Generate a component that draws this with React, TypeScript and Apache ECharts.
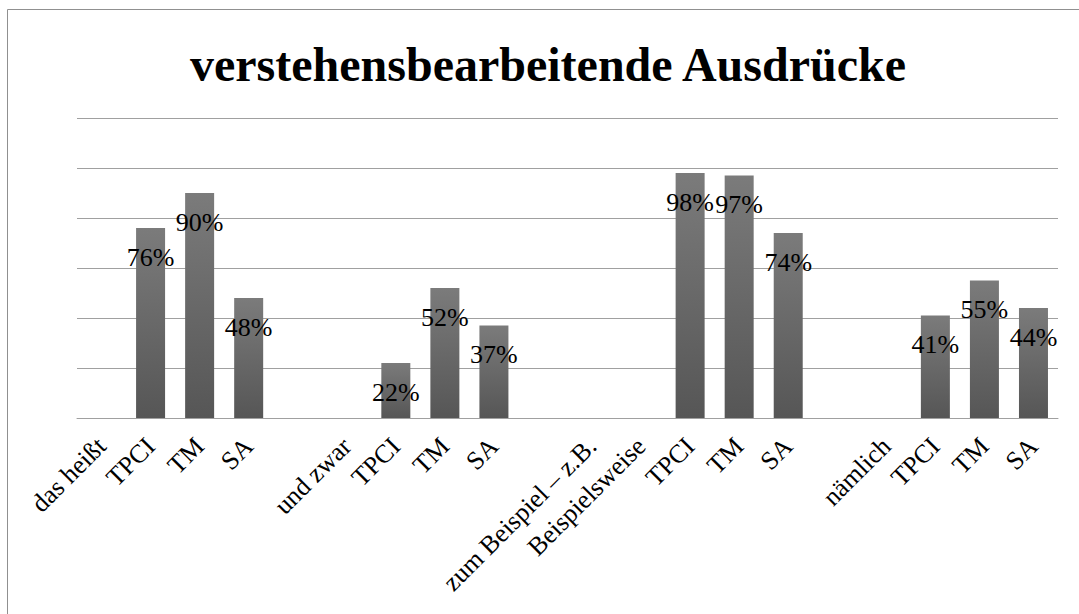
import React, { useEffect, useRef } from "react";
import * as echarts from "echarts";

const titleText = "verstehensbearbeitende Ausdrücke";
const categories = [
  "das heißt", "TPCI", "TM", "SA", "",
  "und zwar", "TPCI", "TM", "SA", "",
  "zum Beispiel – z.B.", "Beispielsweise", "TPCI", "TM", "SA", "",
  "nämlich", "TPCI", "TM", "SA",
];
const values: (number | null)[] = [
  null, 76, 90, 48, null,
  null, 22, 52, 37, null,
  null, null, 98, 97, 74, null,
  null, 41, 55, 44,
];
const yTicks = { min: 0, max: 120, interval: 20 };

const FONT = "'Liberation Serif', 'Times New Roman', serif";

export default function App() {
  const ref = useRef<HTMLDivElement>(null);
  useEffect(() => {
    if (!ref.current) return;
    const chart = echarts.init(ref.current, null, { renderer: "svg" });
    chart.setOption({
      animation: false,
      backgroundColor: "#ffffff",
      title: {
        text: titleText,
        left: 185,
        top: 35,
        textStyle: { fontFamily: FONT, fontSize: 48, fontWeight: "bold", color: "#000" },
      },
      graphic: [
        {
          type: "rect",
          silent: true,
          shape: { x: 7.5, y: 9.5, width: 1100, height: 700 },
          style: { fill: "none", stroke: "#909090", lineWidth: 1 },
          z: 100,
        },
      ],
      grid: { left: 77, right: 21, top: 118, bottom: 196, containLabel: false },
      xAxis: {
        type: "category",
        data: categories,
        axisTick: { show: false },
        axisLine: { lineStyle: { color: "#a0a0a0", width: 1 } },
        axisLabel: {
          interval: 0,
          rotate: 45,
          margin: 24,
          fontFamily: FONT,
          fontSize: 26,
          color: "#000",
        },
      },
      yAxis: {
        type: "value",
        min: yTicks.min,
        max: yTicks.max,
        interval: yTicks.interval,
        axisLabel: { show: false },
        axisLine: { show: false },
        axisTick: { show: false },
        splitLine: { lineStyle: { color: "#a0a0a0", width: 1 } },
      },
      series: [
        {
          type: "bar",
          data: values,
          barWidth: 29,
          itemStyle: {
            color: new echarts.graphic.LinearGradient(0, 0, 0, 1, [
              { offset: 0, color: "#7b7b7b" },
              { offset: 1, color: "#565656" },
            ]),
          },
          label: {
            show: true,
            position: "insideTop",
            distance: 16,
            formatter: (p: any) => `${p.value}%`,
            fontFamily: FONT,
            fontSize: 26,
            color: "#000",
          },
        },
      ],
    });
    return () => chart.dispose();
  }, []);
  return (
    <div
      ref={ref}
      style={{ position: "absolute", left: 0, top: 0, width: 1079, height: 614 }}
    />
  );
}
